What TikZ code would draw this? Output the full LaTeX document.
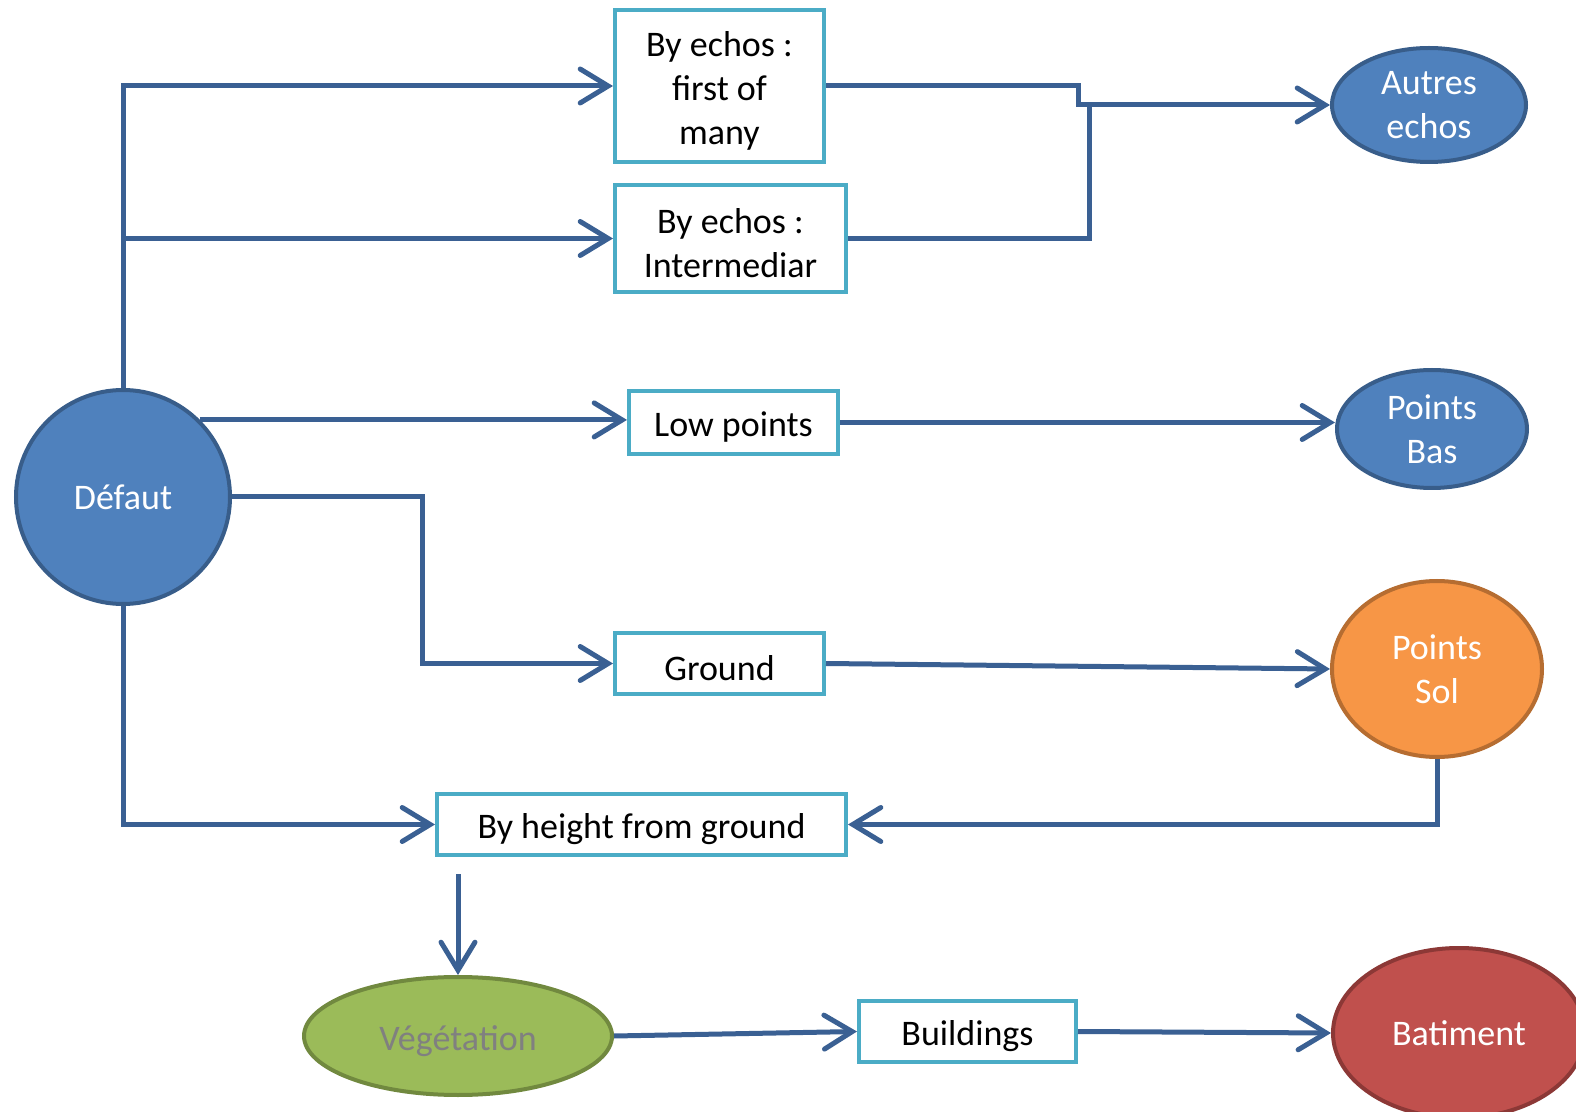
\documentclass[tikz,border=0pt]{standalone}
\usepackage{fontspec}
\setmainfont{Carlito}
\usepackage{xcolor}
\usepackage{tikz}
\usetikzlibrary{arrows.meta,shapes.geometric}

\definecolor{linkblue}{HTML}{3A6093}
\definecolor{boxcyan}{HTML}{4BACC6}
\definecolor{fillblue}{HTML}{4F81BD}
\definecolor{edgeblue}{HTML}{385D8A}
\definecolor{fillorange}{HTML}{F79646}
\definecolor{edgeorange}{HTML}{B66D31}
\definecolor{fillgreen}{HTML}{9BBB59}
\definecolor{edgegreen}{HTML}{71893F}
\definecolor{fillred}{HTML}{C0504D}
\definecolor{edgered}{HTML}{8C3836}

\newcommand{\toppad}{\rule{0pt}{17pt}}

\begin{document}
\begin{tikzpicture}[x=0.5pt, y=-0.5pt,
	every node/.style={font=\fontsize{18pt}{22pt}\selectfont, align=center, inner sep=0pt},
	filterbox/.style={draw=boxcyan, line width=2pt, fill=white, execute at begin node={\rule{0pt}{17pt}}},
	classblob/.style={ellipse, line width=2pt, text=white},
	link/.style={draw=linkblue, line width=2.5pt},
	linkto/.style={link, -{Straight Barb[length=14pt,width=17pt,line cap=round]}}]
	\useasboundingbox (0,0) rectangle (1576,1112);

	\node[circle, draw=edgeblue, fill=fillblue, line width=2pt, text=white, minimum size=107pt] (def) at (123,497) {Défaut};

	\node[filterbox, minimum width=104.5pt, minimum height=76pt] (e1) at (719.5,86) {\toppad By echos :\\first of\\many};
	\node[filterbox, minimum width=115.5pt, minimum height=53.5pt] (e2) at (730.5,238.5) {\toppad By echos :\\Intermediar};
	\node[filterbox, minimum width=104.5pt, minimum height=31.5pt] (low) at (733.5,422.5) {Low points};
	\node[filterbox, minimum width=104.5pt, minimum height=30.5pt] (gnd) at (719.5,663.5) {Ground};
	\node[filterbox, minimum width=204.5pt, minimum height=30.5pt] (hgt) at (641.5,824.5) {By height from ground};
	\node[filterbox, minimum width=108.5pt, minimum height=30.5pt] (bld) at (967.5,1031.5) {Buildings};

	\node[classblob, draw=edgeblue, fill=fillblue, minimum width=97pt, minimum height=57pt] (aut) at (1429,105) {Autres\\echos};
	\node[classblob, draw=edgeblue, fill=fillblue, minimum width=95pt, minimum height=59pt] (bas) at (1432,429) {Points\\Bas};
	\node[classblob, draw=edgeorange, fill=fillorange, minimum width=105pt, minimum height=88pt] (sol) at (1437,669) {Points\\Sol};
	\node[classblob, draw=edgegreen, fill=fillgreen, text=gray, minimum width=154pt, minimum height=59pt, execute at begin node={\rule{0pt}{18pt}}] (veg) at (458,1036) {Végétation};
	\node[classblob, draw=edgered, fill=fillred, minimum width=126pt, minimum height=85pt] (bat) at (1459,1033) {Batiment};

	\coordinate (gbend) at (422,663.5);
	\coordinate (j1) at (1078,105);
	\coordinate (j2) at (1089,105);

	\draw[linkto] (def.north) |- (e1.west);
	\draw[linkto] (def.north |- e2.west) -- (e2.west);
	\draw[linkto] (def.north east) -- (def.north east -| low.west);
	\draw[linkto] (def.east) -| (gbend) -- (gnd.west);
	\draw[linkto] (def.south) |- (hgt.west);
	\draw[linkto] (sol.south) |- (hgt.east);
	\draw[linkto, shorten <=8.5pt] (veg.north |- hgt.south) -- (veg.north);
	\draw[linkto] (veg.east) -- (bld.west);
	\draw[linkto] (bld.east) -- (bat.west);
	\draw[linkto] (e1.east) -| (j1) -- (aut.west);
	\draw[link] (e2.east) -| (j2);
	\draw[linkto] (low.east) -- (low.east -| bas.west);
	\draw[linkto] (gnd.east) -- (sol.west);
\end{tikzpicture}
\end{document}
